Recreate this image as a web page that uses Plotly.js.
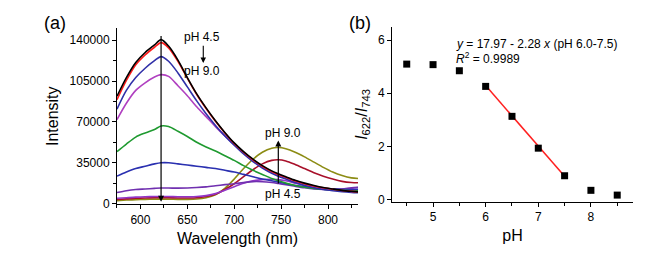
<!DOCTYPE html>
<html>
<head>
<meta charset="utf-8">
<script src="https://cdn.plot.ly/plotly-3.0.1.min.js"></script>
<style>html,body{margin:0;padding:0;background:#fff;}#chart{width:646px;height:260px;}</style>
</head>
<body>
<div id="chart"></div>
<script>
// ---------- Panel (a): emission spectra ----------
const wavelength = [575,585,595,605,615,622,630,640,650,660,670,680,690,700,710,720,730,740,747,755,765,775,785,795,805,815,825,832];
const pH45 = [92000,108000,121000,129500,136000,140500,135000,123000,108000,94000,82000,71000,61000,52000,44500,38000,32500,28000,25500,23000,20000,17500,15500,13800,12500,11300,10500,10000];
const pH50 = [89000,105500,119000,127500,134000,138000,133500,122000,107500,93500,81500,70500,60500,51500,44000,37500,32000,27500,25000,22500,19500,17000,15000,13500,12200,11200,10400,10000];
const pH55 = [81000,97000,108000,116000,122500,126000,122000,112000,100000,88000,77000,67000,58000,50000,42500,36000,30500,26000,23500,21000,18000,15500,13500,12000,11000,10200,9600,9300];
const pH60 = [72000,86000,97000,103500,108500,110500,109000,101000,92500,83000,74500,66000,58000,50500,43500,37000,31500,27000,24500,22000,19000,16500,14500,13000,12000,11200,10500,10000];
const pH65 = [44500,51000,57000,60500,63500,66500,66000,62000,57500,52500,48500,45000,41000,37000,32500,28500,25000,21500,19500,17500,15500,14000,13000,12300,11800,11300,11000,11000];
const pH70 = [23500,27000,30000,32000,34000,35000,35000,34000,33000,32000,31000,30000,28500,27000,25000,23000,21000,19500,18500,17000,15500,14500,13500,13000,12500,12000,12000,12200];
const pH75 = [9500,11000,12000,12500,13000,13300,13300,13200,13300,13700,14300,15200,16200,17000,18000,18800,18700,18000,17200,16200,14800,13500,12500,12000,12000,12500,13500,14000];
const pH80 = [4500,5000,5500,5800,6000,6000,6000,5800,5800,6000,6800,8500,11500,14500,17500,19500,20500,20800,20500,19500,17500,15500,13500,12500,12000,12300,13000,13800];
const pH85 = [3500,4000,4500,4800,5000,5000,5000,4800,4800,5000,6000,8000,12000,17000,23000,29000,34000,37000,37500,36500,33500,30000,26500,23500,21000,19000,18000,17800];
const pH90 = [2500,3000,3400,3600,3800,3800,3800,3600,3600,3900,5000,7500,13000,21000,30000,38000,44000,47500,48000,47000,44000,40000,35500,31000,27000,24000,22000,21500];

const spectra = [pH45,pH50,pH55,pH60,pH65,pH70,pH75,pH80,pH85,pH90];
const spectraNames = ['pH 4.5','pH 5.0','pH 5.5','pH 6.0','pH 6.5','pH 7.0','pH 7.5','pH 8.0','pH 8.5','pH 9.0'];
const spectraColors = ['#000000','#ff1a1a','#3030a8','#b040c0','#1f9a30','#2a30b0','#7030b0','#9236c8','#a8102a','#8c8c14'];

// ---------- Panel (b): ratio vs pH ----------
const pHvalues = [4.5,5.0,5.5,6.0,6.5,7.0,7.5,8.0,8.5];
const ratio = [5.10,5.08,4.85,4.26,3.13,1.93,0.89,0.34,0.16];
const fitIntercept = 17.97, fitSlope = -2.28;
const fitRange = [6.0,7.5];

const FONT = 'Liberation Sans, Arial, sans-serif';
const traces = [];
// draw in reverse so black is on top
for (let i = spectra.length - 1; i >= 0; i--) {
  traces.push({
    x: wavelength, y: spectra[i], name: spectraNames[i], type: 'scatter', mode: 'lines',
    line: {color: spectraColors[i], width: 1.6, shape: 'spline', smoothing: 0.8},
    xaxis: 'x', yaxis: 'y', showlegend: false, hoverinfo: 'skip'
  });
}
traces.push({
  x: fitRange, y: fitRange.map(v => fitIntercept + fitSlope * v),
  type: 'scatter', mode: 'lines', line: {color: '#ff2020', width: 1.5},
  xaxis: 'x2', yaxis: 'y2', showlegend: false
});
traces.push({
  x: pHvalues, y: ratio, type: 'scatter', mode: 'markers',
  marker: {symbol: 'square', size: 7, color: '#000'},
  xaxis: 'x2', yaxis: 'y2', showlegend: false
});

const axCommon = {
  showline: true, linecolor: '#000', linewidth: 1, mirror: false,
  showgrid: false, zeroline: false, ticks: 'outside', ticklen: 4, tickwidth: 1, tickcolor: '#000',
  tickfont: {family: FONT, size: 12, color: '#000'}
};

const layout = {
  width: 646, height: 260,
  margin: {l: 0, r: 0, t: 0, b: 0},
  paper_bgcolor: '#fff', plot_bgcolor: 'rgba(0,0,0,0)',
  font: {family: FONT, color: '#000'},
  xaxis: Object.assign({}, axCommon, {
    domain: [0.1811, 0.5542], range: [575, 832], tick0: 600, dtick: 50,
    minor: {dtick: 25, ticks: 'outside', ticklen: 2.5, tickcolor: '#000'},
    anchor: 'y',
    title: {text: 'Wavelength (nm)', font: {family: FONT, size: 16}, standoff: 6}
  }),
  yaxis: Object.assign({}, axCommon, {
    domain: [0.2135, 0.8923], range: [-800, 150500], tick0: 0, dtick: 35000, tickformat: 'd',
    minor: {dtick: 17500, ticks: 'outside', ticklen: 2.5, tickcolor: '#000'},
    anchor: 'x',
    title: {text: 'Intensity', font: {family: FONT, size: 16}, standoff: 6}
  }),
  xaxis2: Object.assign({}, axCommon, {
    domain: [0.6068, 0.9799], range: [4.22, 8.8], tick0: 5, dtick: 1,
    minor: {dtick: 0.5, ticks: 'outside', ticklen: 3, tickcolor: '#000'},
    anchor: 'y2',
    title: {text: 'pH', font: {family: FONT, size: 16}, standoff: 6}
  }),
  yaxis2: Object.assign({}, axCommon, {
    domain: [0.2231, 0.8962], range: [-0.1, 6.5], tick0: 0, dtick: 2,
    anchor: 'x2',
    title: {text: '<i>I</i><sub>622</sub>/<i>I</i><sub>743</sub>', font: {family: FONT, size: 16}, standoff: 6}
  }),
  annotations: [
    {xref: 'paper', yref: 'paper', x: 55/646, y: 1 - 23/260, xanchor: 'center', yanchor: 'middle', text: '(a)', showarrow: false, font: {family: FONT, size: 18}},
    {xref: 'paper', yref: 'paper', x: 360/646, y: 1 - 23/260, xanchor: 'center', yanchor: 'middle', text: '(b)', showarrow: false, font: {family: FONT, size: 18}},
    // big arrow at 622 nm
    {xref: 'x', yref: 'y', axref: 'x', ayref: 'y', x: 622, y: 1500, ax: 622, ay: 145000, text: '', showarrow: true,
     arrowhead: 2, arrowsize: 1, arrowwidth: 1.2, arrowcolor: '#000'},
    // small legend arrow
    {xref: 'x', yref: 'y', axref: 'x', ayref: 'y', x: 667, y: 120500, ax: 667, ay: 136500, text: '', showarrow: true,
     arrowhead: 2, arrowsize: 1, arrowwidth: 1.1, arrowcolor: '#000'},
    {xref: 'x', yref: 'y', x: 666, y: 142400, text: 'pH 4.5', showarrow: false, font: {family: FONT, size: 12}},
    {xref: 'x', yref: 'y', x: 666, y: 114000, text: 'pH 9.0', showarrow: false, font: {family: FONT, size: 12}},
    // arrow at 747 nm
    {xref: 'x', yref: 'y', axref: 'x', ayref: 'y', x: 747, y: 54000, ax: 747, ay: 16000, text: '', showarrow: true,
     arrowhead: 2, arrowsize: 1, arrowwidth: 1.2, arrowcolor: '#000'},
    {xref: 'x', yref: 'y', x: 752, y: 60500, text: 'pH 9.0', showarrow: false, font: {family: FONT, size: 12}},
    {xref: 'x', yref: 'y', x: 752, y: 8000, text: 'pH 4.5', showarrow: false, font: {family: FONT, size: 12}},
    // fit equation
    {xref: 'x2', yref: 'y2', x: 5.40, y: 5.86, xanchor: 'left', text: '<i>y</i> = 17.97 - 2.28 <i>x</i> (pH 6.0-7.5)', showarrow: false, font: {family: FONT, size: 12}},
    {xref: 'x2', yref: 'y2', x: 5.40, y: 5.33, xanchor: 'left', text: '<i>R</i><sup>2</sup> = 0.9989', showarrow: false, font: {family: FONT, size: 12}}
  ]
};

Plotly.newPlot('chart', traces, layout, {displayModeBar: false, staticPlot: true});
</script>
</body>
</html>
